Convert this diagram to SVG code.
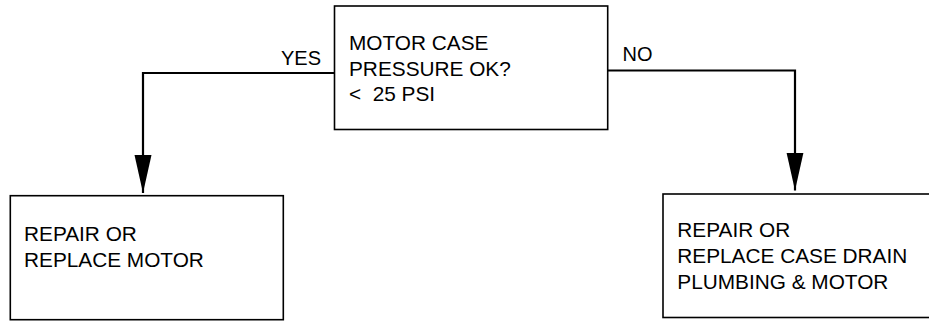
<svg xmlns="http://www.w3.org/2000/svg" width="929" height="321" viewBox="0 0 929 321">
<defs>
<marker id="arr" markerUnits="userSpaceOnUse" markerWidth="40" markerHeight="20" refX="38" refY="8.5" orient="auto" viewBox="0 0 40 17">
<path d="M0,0 L38,8.5 L0,17 Z" fill="#000"/>
</marker>
</defs>
<style>
.box{fill:#fff;stroke:#000;stroke-width:1.6}
.conn{fill:none;stroke:#000;stroke-width:2.2}
text{font-family:"Liberation Sans",Arial,Helvetica,sans-serif;fill:#000}
.t{font-size:20.8px}
.lbl{font-size:20px}
</style>
<rect width="929" height="321" fill="#fff"/>
<g id="connectors">
<polyline class="conn" points="334.5,73 143,73 143,193" marker-end="url(#arr)"/>
<polyline class="conn" points="607.7,70.5 795,70.5 795,190.5" marker-end="url(#arr)"/>
<text class="lbl" x="281" y="65">YES</text>
<text class="lbl" x="622.5" y="61">NO</text>
</g>
<g id="decision">
<rect class="box" x="334.5" y="6" width="273.2" height="123.5"/>
<text class="t" x="349" y="49.5">MOTOR CASE</text>
<text class="t" x="349" y="75.5">PRESSURE OK?</text>
<text class="t" x="349" y="101" xml:space="preserve">&lt;  25 PSI</text>
</g>
<g id="repair-motor">
<rect class="box" x="10.3" y="195.7" width="273" height="124"/>
<text class="t" x="24" y="241">REPAIR OR</text>
<text class="t" x="24" y="267">REPLACE MOTOR</text>
</g>
<g id="repair-drain">
<rect class="box" x="663" y="194" width="280" height="123.5"/>
<text class="t" x="677.3" y="237.3">REPAIR OR</text>
<text class="t" x="677.3" y="263.3">REPLACE CASE DRAIN</text>
<text class="t" x="677.3" y="288.5">PLUMBING &amp; MOTOR</text>
</g>
</svg>
